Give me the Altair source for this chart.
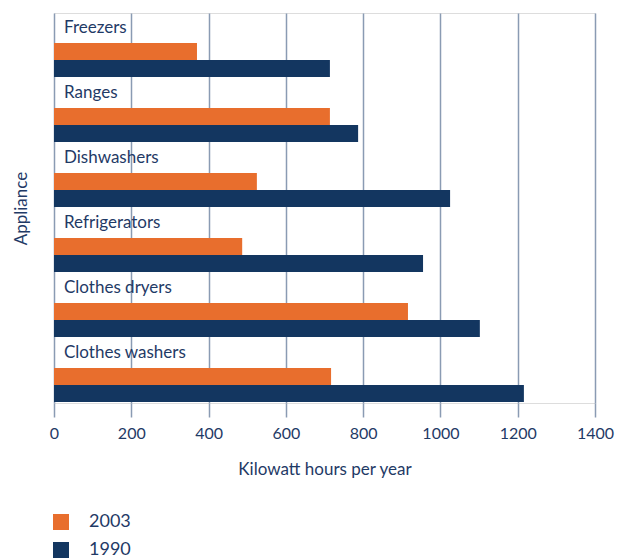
import altair as alt
import pandas as pd

appliances = ["Freezers", "Ranges", "Dishwashers", "Refrigerators", "Clothes dryers", "Clothes washers"]
kwh_2003 = [370, 714, 525, 487, 916, 717]
kwh_1990 = [714, 787, 1025, 955, 1102, 1216]
years = ["2003", "1990"]

rows = []
for a, v03, v90 in zip(appliances, kwh_2003, kwh_1990):
    rows.append({"Appliance": a, "Year": "2003", "kWh": v03})
    rows.append({"Appliance": a, "Year": "1990", "kWh": v90})
df = pd.DataFrame(rows)
labels_df = pd.DataFrame({"Appliance": appliances})

NAVY = "#133660"
ORANGE = "#e86e2d"
TEXT = "#1f3a66"
GRID = "#8a9bb3"
FONT = "Lato"

yscale = alt.Scale(domain=appliances, paddingInner=0, paddingOuter=0)

bars = alt.Chart(df).mark_bar(cornerRadius=0).encode(
    x=alt.X("kWh:Q", scale=alt.Scale(domain=[0, 1400], nice=False),
            axis=alt.Axis(values=[0, 200, 400, 600, 800, 1000, 1200, 1400],
                          format="d", labelFlush=False,
                          title="Kilowatt hours per year", grid=True,
                          gridColor=GRID, gridWidth=1.5, domain=False,
                          tickColor=GRID, tickWidth=1.5, tickSize=14,
                          labelPadding=8, labelFontSize=16, labelColor=TEXT,
                          labelFont=FONT, titleFont=FONT, titleFontSize=17,
                          titleFontWeight="normal", titleColor=TEXT,
                          titlePadding=20)),
    y=alt.Y("Appliance:N", scale=yscale, sort=appliances,
            axis=alt.Axis(labels=False, ticks=False, domain=False, grid=False,
                          title="Appliance", titleFont=FONT, titleFontSize=17,
                          titleFontWeight="normal", titleColor=TEXT,
                          titlePadding=24)),
    yOffset=alt.YOffset("Year:N", sort=years,
                        scale=alt.Scale(domain=years, range=[30, 64],
                                        paddingInner=0, paddingOuter=0)),
    color=alt.Color("Year:N", sort=years,
                    scale=alt.Scale(domain=years, range=[ORANGE, NAVY]),
                    legend=alt.Legend(title=None, orient="none", legendX=-2,
                                      legendY=500, symbolType="square",
                                      symbolSize=256, symbolStrokeWidth=0,
                                      labelFont=FONT, labelFontSize=18,
                                      labelColor=TEXT, rowPadding=10,
                                      labelOffset=19)),
)

texts = alt.Chart(labels_df).mark_text(
    align="left", baseline="middle", dy=-18, dx=0, font=FONT, fontSize=17, color=TEXT
).encode(
    x=alt.value(10),
    y=alt.Y("Appliance:N", scale=yscale, sort=appliances),
    text="Appliance:N",
)

chart = alt.layer(bars, texts).properties(
    width=541, height=390,
    autosize=alt.AutoSizeParams(type="none"),
    padding={"left": 54, "top": 13, "right": 23, "bottom": 155},
).configure_view(stroke=None).configure(background="white")

chart.save("out.html", embed_options={"renderer": "svg", "actions": False})
